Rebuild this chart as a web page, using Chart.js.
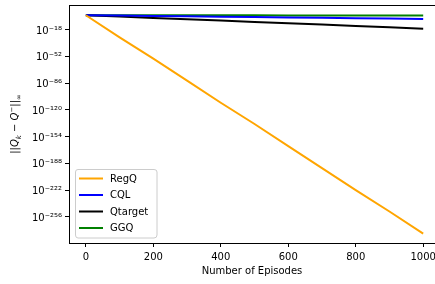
<!DOCTYPE html>
<html><head><meta charset="utf-8">
<script src="https://cdn.jsdelivr.net/npm/chart.js@4/dist/chart.umd.min.js"></script>
<style>html,body{margin:0;padding:0;background:#fff}#wrap{width:435px;height:284px}</style>
</head><body><div id="wrap"><canvas id="c" width="435" height="284"></canvas></div>
<script>
const episodes = [0,100,200,300,400,500,600,700,800,900,1000];
const regQ    = [1e0,1e-28,1e-55,1e-83,1e-111,1e-138,1e-166,1e-194,1e-222,1e-249,1e-277];
const cql     = [1e0,3.4e-1,1.1e-1,3.9e-2,1.3e-2,4.5e-3,1.5e-3,5e-4,1.7e-4,6e-5,2e-5];
const qtarget = [1e0,2e-2,4e-4,8e-6,1.6e-7,3e-9,6e-11,1.3e-12,2.5e-14,5e-16,1e-17];
const ggq     = [1e0,0.93,0.87,0.81,0.76,0.71,0.66,0.62,0.57,0.53,0.5];
const seriesNames = ['RegQ','CQL','Qtarget','GGQ'];
const seriesColors = ['#FFA500','#0000FF','#000000','#008000'];
const yTickExponents = [-18,-52,-86,-120,-154,-188,-222,-256];
const yTickLabels = ['10⁻¹⁸','10⁻⁵²','10⁻⁸⁶','10⁻¹²⁰','10⁻¹⁵⁴','10⁻¹⁸⁸','10⁻²²²','10⁻²⁵⁶'];
const xTickValues = [0,200,400,600,800,1000];
const xTitle = 'Number of Episodes';

const font = {family:'DejaVu Sans', size:10};
const seriesData = [regQ,cql,qtarget,ggq];

const legendPlugin = {
  id:'inLegend',
  afterDatasetsDraw(chart){
    const ctx = chart.ctx, a = chart.chartArea;
    const x0 = a.left + 6, y0 = a.bottom - 74, w = 82, h = 69;
    ctx.save();
    ctx.fillStyle = 'rgba(255,255,255,0.8)';
    ctx.strokeStyle = '#cccccc';
    ctx.lineWidth = 1;
    const r = 3;
    ctx.beginPath();
    ctx.moveTo(x0+r,y0+0.5);ctx.lineTo(x0+w-r,y0+0.5);ctx.quadraticCurveTo(x0+w,y0+0.5,x0+w,y0+r);
    ctx.lineTo(x0+w,y0+h-r);ctx.quadraticCurveTo(x0+w,y0+h,x0+w-r,y0+h);
    ctx.lineTo(x0+r,y0+h);ctx.quadraticCurveTo(x0+0.5,y0+h,x0+0.5,y0+h-r);
    ctx.lineTo(x0+0.5,y0+r);ctx.quadraticCurveTo(x0+0.5,y0+0.5,x0+r,y0+0.5);
    ctx.closePath();ctx.fill();ctx.stroke();
    ctx.font = '10px "DejaVu Sans"';
    ctx.textBaseline = 'middle';
    chart.data.datasets.forEach((ds,i)=>{
      const y = y0 + 9.5 + i*16.5;
      ctx.strokeStyle = ds.borderColor; ctx.lineWidth = 2;
      ctx.beginPath(); ctx.moveTo(x0+4,y); ctx.lineTo(x0+28,y); ctx.stroke();
      ctx.fillStyle = '#000'; ctx.fillText(ds.label, x0+35, y+0.5);
    });
    ctx.restore();
  }
};

const yTitlePlugin = {
  id:'yTitle',
  afterDraw(chart){
    const ctx = chart.ctx, a = chart.chartArea;
    const pieces = [
      {t:'||', f:'10px "DejaVu Sans"', dy:0},
      {t:'Q', f:'italic 10px "DejaVu Sans"', dy:0},
      {t:'k', f:'italic 7px "DejaVu Sans"', dy:2.5},
      {t:' − ', f:'10px "DejaVu Sans"', dy:0},
      {t:'Q', f:'italic 10px "DejaVu Sans"', dy:0},
      {t:'−', f:'7px "DejaVu Sans"', dy:-4},
      {t:'||', f:'10px "DejaVu Sans"', dy:0},
      {t:'∞', f:'7px "DejaVu Sans"', dy:2.5}
    ];
    ctx.save();
    let total = 0;
    pieces.forEach(p=>{ctx.font=p.f; p.w=ctx.measureText(p.t).width; total+=p.w;});
    ctx.translate(18, (a.top+a.bottom)/2);
    ctx.rotate(-Math.PI/2);
    ctx.fillStyle='#000'; ctx.textBaseline='alphabetic';
    let x = -total/2;
    pieces.forEach(p=>{ctx.font=p.f; ctx.fillText(p.t, x, p.dy); x+=p.w;});
    ctx.restore();
  }
};

new Chart(document.getElementById('c'), {
  type:'line',
  data:{
    datasets: seriesNames.map((n,i)=>({
      label:n,
      data: episodes.map((e,j)=>({x:e,y:seriesData[i][j]})),
      borderColor:seriesColors[i], backgroundColor:seriesColors[i],
      borderWidth:2, pointRadius:0, tension:0, fill:false
    }))
  },
  options:{
    responsive:false, animation:false, devicePixelRatio:1,
    layout:{padding:{top:5,right:0,left:0,bottom:0}},
    plugins:{legend:{display:false}, tooltip:{enabled:false}},
    scales:{
      x:{
        type:'linear', min:-50, max:1035,
        afterBuildTicks(ax){ ax.ticks = xTickValues.map(v=>({value:v})); },
        afterFit(ax){ ax.height = 41; ax.paddingLeft = 0; ax.paddingRight = 0; },
        grid:{display:true, drawOnChartArea:false, drawTicks:true, tickLength:4, color:'#000'},
        border:{display:true, color:'#000', width:1},
        ticks:{font, color:'#000', padding:4, maxRotation:0, autoSkip:false,
          callback(v){ return String(v); }},
        title:{display:true, text:xTitle, font, color:'#000', padding:{top:2,bottom:7}}
      },
      y:{
        type:'logarithmic', min:1e-289, max:1e13,
        afterBuildTicks(ax){ ax.ticks = yTickExponents.map(e=>({value:Math.pow(10,e)})); },
        afterFit(ax){ ax.width = 69; ax.paddingTop = 0; ax.paddingBottom = 0; },
        grid:{display:true, drawOnChartArea:false, drawTicks:true, tickLength:4, color:'#000'},
        border:{display:true, color:'#000', width:1},
        ticks:{font, color:'#000', padding:3, autoSkip:false, labelOffset:1.5,
          callback(v,i){ return yTickLabels[i]; }},
        title:{display:false}
      }
    }
  },
  plugins:[legendPlugin, yTitlePlugin, {
    id:'topBorder',
    afterDraw(chart){
      const ctx=chart.ctx,a=chart.chartArea;
      ctx.save();ctx.strokeStyle='#000';ctx.lineWidth=1;
      ctx.beginPath();ctx.moveTo(a.left,a.top+0.5);ctx.lineTo(a.right+2,a.top+0.5);ctx.stroke();ctx.restore();
    }
  }]
});
</script>
</body></html>
